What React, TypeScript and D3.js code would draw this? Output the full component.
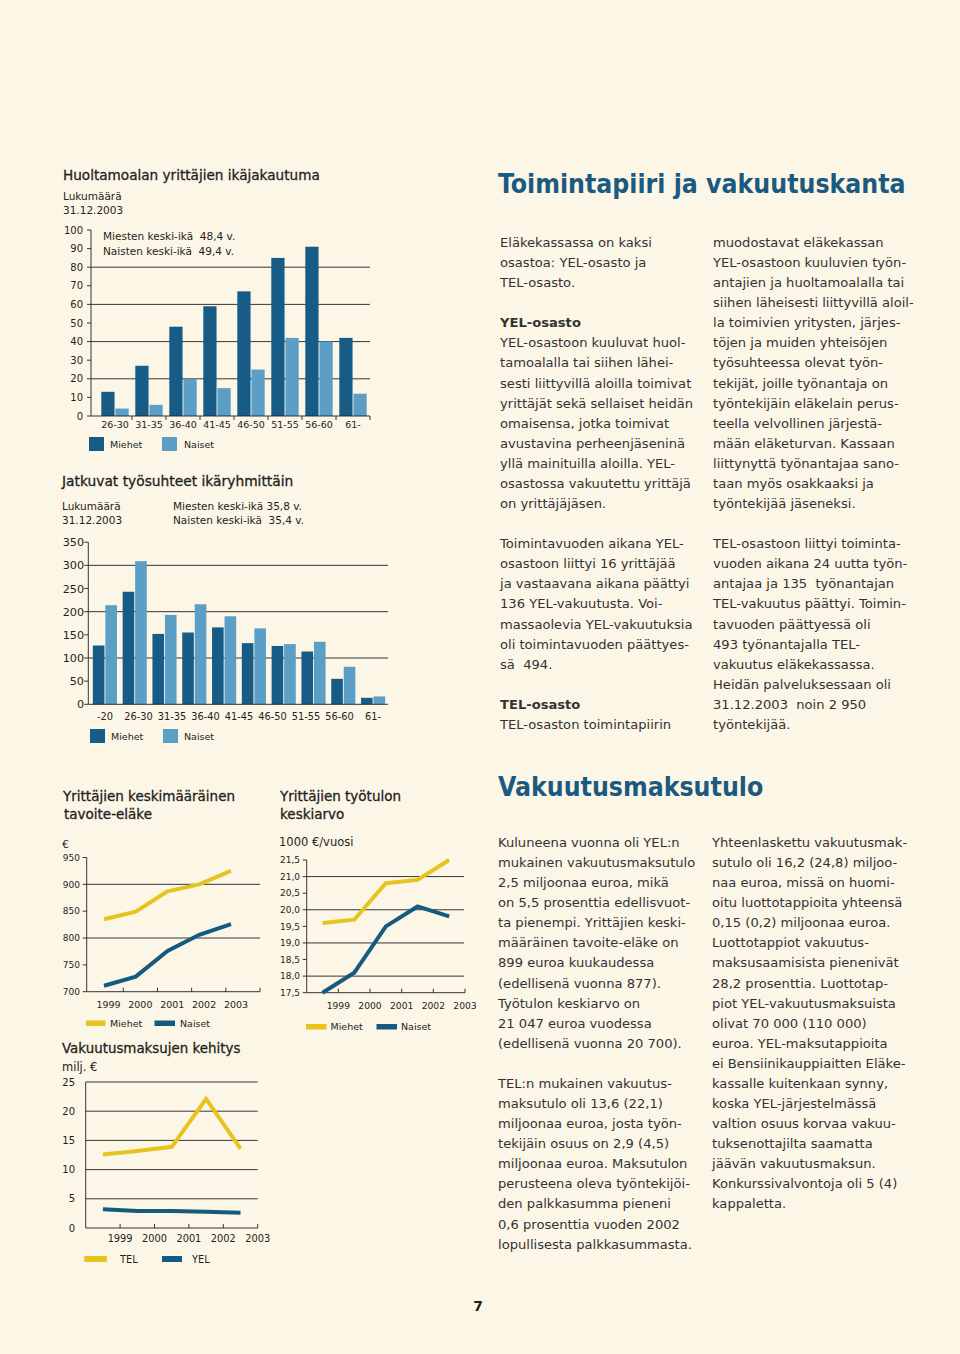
import React from "react";
import * as d3 from "d3";

const W = 960;
const H = 1354;
const BG = "#fcf6e7";
const DARK = "#175c86";
const LIGHT = "#5c9fc6";
const YELLOW = "#e7c31d";
const LINEBLUE = "#175a7f";
const INK = "#231f20";
const TEXT = "#333333";
const HEAD = "#1b5a80";
const FONT = "'DejaVu Sans', Verdana, sans-serif";
const FONT_C = "'DejaVu Sans Condensed', 'DejaVu Sans', sans-serif";
const PRE = { whiteSpace: "pre" as const };

// ---------- Chart 1: Huoltamoalan yrittäjien ikäjakautuma ----------
const ageGroups1 = ["26-30", "31-35", "36-40", "41-45", "46-50", "51-55", "56-60", "61-"];
const men1 = [13, 27, 48, 59, 67, 85, 91, 42];
const women1 = [4, 6, 20, 15, 25, 42, 40, 12];
const yTicks1 = [0, 10, 20, 30, 40, 50, 60, 70, 80, 90, 100];
const grid1 = [20, 40, 60, 80];

// ---------- Chart 2: Jatkuvat työsuhteet ikäryhmittäin ----------
const ageGroups2 = ["-20", "21-25", "26-30", "31-35", "36-40", "41-45", "46-50", "51-55", "56-60", "61-"];
const men2 = [127, 243, 152, 155, 166, 132, 126, 114, 55, 14];
const women2 = [214, 309, 193, 216, 190, 164, 130, 135, 81, 17];
const tickLabels2 = ["-20", "26-30", "31-35", "36-40", "41-45", "46-50", "51-55", "56-60", "61-"];
const yTicks2 = [0, 50, 100, 150, 200, 250, 300, 350];
const grid2 = [100, 200, 300];

// ---------- Chart 3: tavoite-eläke ----------
const years = ["1999", "2000", "2001", "2002", "2003"];
const pensionMen = [835, 849, 887, 900, 925];
const pensionWomen = [711, 728, 776, 806, 826];
const yTicks3 = [700, 750, 800, 850, 900, 950];
const grid3 = [800, 900];

// ---------- Chart 4: työtulon keskiarvo ----------
const incomeMen = [19.6, 19.7, 20.8, 20.9, 21.5];
const incomeWomen = [17.5, 18.1, 19.5, 20.1, 19.8];
const yTicks4 = [17.5, 18.0, 18.5, 19.0, 19.5, 20.0, 20.5, 21.0, 21.5];
const grid4 = [18, 19, 20, 21];

// ---------- Chart 5: Vakuutusmaksujen kehitys ----------
const premiumTEL = [12.6, 13.2, 13.9, 22.1, 13.6];
const premiumYEL = [3.2, 2.9, 2.9, 2.8, 2.6];
const yTicks5 = [0, 5, 10, 15, 20, 25];
const grid5 = [5, 10, 15, 20, 25];

// ---------- Text columns ----------
const col1a = [
  "Eläkekassassa on kaksi",
  "osastoa: YEL-osasto ja",
  "TEL-osasto.",
  "",
  "#YEL-osasto",
  "YEL-osastoon kuuluvat huol-",
  "tamoalalla tai siihen lähei-",
  "sesti liittyvillä aloilla toimivat",
  "yrittäjät sekä sellaiset heidän",
  "omaisensa, jotka toimivat",
  "avustavina perheenjäseninä",
  "yllä mainituilla aloilla. YEL-",
  "osastossa vakuutettu yrittäjä",
  "on yrittäjäjäsen.",
  "",
  "Toimintavuoden aikana YEL-",
  "osastoon liittyi 16 yrittäjää",
  "ja vastaavana aikana päättyi",
  "136 YEL-vakuutusta. Voi-",
  "massaolevia YEL-vakuutuksia",
  "oli toimintavuoden päättyes-",
  "sä  494.",
  "",
  "#TEL-osasto",
  "TEL-osaston toimintapiirin",
];
const col2a = [
  "muodostavat eläkekassan",
  "YEL-osastoon kuuluvien työn-",
  "antajien ja huoltamoalalla tai",
  "siihen läheisesti liittyvillä aloil-",
  "la toimivien yritysten, järjes-",
  "töjen ja muiden yhteisöjen",
  "työsuhteessa olevat työn-",
  "tekijät, joille työnantaja on",
  "työntekijäin eläkelain perus-",
  "teella velvollinen järjestä-",
  "mään eläketurvan. Kassaan",
  "liittynyttä työnantajaa sano-",
  "taan myös osakkaaksi ja",
  "työntekijää jäseneksi.",
  "",
  "TEL-osastoon liittyi toiminta-",
  "vuoden aikana 24 uutta työn-",
  "antajaa ja 135  työnantajan",
  "TEL-vakuutus päättyi. Toimin-",
  "tavuoden päättyessä oli",
  "493 työnantajalla TEL-",
  "vakuutus eläkekassassa.",
  "Heidän palveluksessaan oli",
  "31.12.2003  noin 2 950",
  "työntekijää.",
];
const col1b = [
  "Kuluneena vuonna oli YEL:n",
  "mukainen vakuutusmaksutulo",
  "2,5 miljoonaa euroa, mikä",
  "on 5,5 prosenttia edellisvuot-",
  "ta pienempi. Yrittäjien keski-",
  "määräinen tavoite-eläke on",
  "899 euroa kuukaudessa",
  "(edellisenä vuonna 877).",
  "Työtulon keskiarvo on",
  "21 047 euroa vuodessa",
  "(edellisenä vuonna 20 700).",
  "",
  "TEL:n mukainen vakuutus-",
  "maksutulo oli 13,6 (22,1)",
  "miljoonaa euroa, josta työn-",
  "tekijäin osuus on 2,9 (4,5)",
  "miljoonaa euroa. Maksutulon",
  "perusteena oleva työntekijöi-",
  "den palkkasumma pieneni",
  "0,6 prosenttia vuoden 2002",
  "lopullisesta palkkasummasta.",
];
const col2b = [
  "Yhteenlaskettu vakuutusmak-",
  "sutulo oli 16,2 (24,8) miljoo-",
  "naa euroa, missä on huomi-",
  "oitu luottotappioita yhteensä",
  "0,15 (0,2) miljoonaa euroa.",
  "Luottotappiot vakuutus-",
  "maksusaamisista pienenivät",
  "28,2 prosenttia. Luottotap-",
  "piot YEL-vakuutusmaksuista",
  "olivat 70 000 (110 000)",
  "euroa. YEL-maksutappioita",
  "ei Bensiinikauppiaitten Eläke-",
  "kassalle kuitenkaan synny,",
  "koska YEL-järjestelmässä",
  "valtion osuus korvaa vakuu-",
  "tuksenottajilta saamatta",
  "jäävän vakuutusmaksun.",
  "Konkurssivalvontoja oli 5 (4)",
  "kappaletta.",
];

const TextColumn = ({ lines, x, y, lh = 20.08 }: { lines: string[]; x: number; y: number; lh?: number }) => (
  <g>
    {lines.map((l, i) =>
      l === "" ? null : (
        <text
          key={i}
          x={x}
          y={y + i * lh}
          fontFamily={FONT}
          fontSize={13.1}
          fill={TEXT}
          style={PRE}
          fontWeight={l.startsWith("#") ? "bold" : "normal"}
        >
          {l.startsWith("#") ? l.slice(1) : l}
        </text>
      )
    )}
  </g>
);

const Title = ({ x, y, children, size = 13.6 }: any) => (
  <text x={x} y={y} fontFamily={FONT} fontSize={size} fill={INK} stroke={INK} strokeWidth={0.3} style={PRE}>
    {children}
  </text>
);

const Small = ({ x, y, children, size = 10.5, anchor = "start" }: any) => (
  <text x={x} y={y} fontFamily={FONT} fontSize={size} fill={INK} textAnchor={anchor} style={PRE}>
    {children}
  </text>
);

function Chart1() {
  const y = d3.scaleLinear().domain([0, 100]).range([416, 230]);
  const x = d3.scaleBand().domain(ageGroups1).range([98, 370]).paddingInner(0).paddingOuter(0);
  const bw = x.bandwidth();
  const barW = bw * 0.39;
  const pad = bw * 0.097;
  const axisX = 91;
  return (
    <g>
      <Title x={63} y={180}>Huoltamoalan yrittäjien ikäjakautuma</Title>
      <Small x={63} y={200}>Lukumäärä</Small>
      <Small x={63} y={213.5}>31.12.2003</Small>
      {grid1.map((v) => (
        <line key={v} x1={axisX} x2={370} y1={y(v)} y2={y(v)} stroke={INK} strokeWidth={0.9} />
      ))}
      {ageGroups1.map((g, i) => (
        <g key={g}>
          <rect x={x(g)! + pad} y={y(men1[i])} width={barW} height={y(0) - y(men1[i])} fill={DARK} />
          <rect x={x(g)! + bw - pad - barW} y={y(women1[i])} width={barW} height={y(0) - y(women1[i])} fill={LIGHT} />
          <line x1={x(g)! + bw} x2={x(g)! + bw} y1={y(0)} y2={y(0) + 4} stroke={INK} strokeWidth={0.9} />
          <Small x={x(g)! + bw / 2} y={428} size={9.5} anchor="middle">{g}</Small>
        </g>
      ))}
      <line x1={axisX} x2={axisX} y1={y(100)} y2={y(0)} stroke={INK} strokeWidth={0.9} />
      <line x1={axisX} x2={370} y1={y(0)} y2={y(0)} stroke={INK} strokeWidth={0.9} />
      {yTicks1.map((v) => (
        <g key={v}>
          <line x1={axisX - 4} x2={axisX} y1={y(v)} y2={y(v)} stroke={INK} strokeWidth={0.9} />
          <Small x={83} y={y(v) + 3.6} size={10} anchor="end">{v}</Small>
        </g>
      ))}
      <Small x={103} y={240}>Miesten keski-ikä  48,4 v.</Small>
      <Small x={103} y={255}>Naisten keski-ikä  49,4 v.</Small>
      <rect x={89} y={437} width={15} height={14} fill={DARK} />
      <Small x={110} y={447.5} size={9.5}>Miehet</Small>
      <rect x={162} y={437} width={15} height={14} fill={LIGHT} />
      <Small x={184} y={447.5} size={9.5}>Naiset</Small>
    </g>
  );
}

function Chart2() {
  const y = d3.scaleLinear().domain([0, 350]).range([704.3, 542.2]);
  const x = d3.scaleBand().domain(ageGroups2).range([90, 388]).paddingInner(0).paddingOuter(0);
  const bw = x.bandwidth();
  const barW = bw * 0.39;
  const pad = bw * 0.095;
  const axisX = 88.3;
  const xl = d3
    .scalePoint()
    .domain(tickLabels2)
    .range([x(ageGroups2[0])! + bw / 2, x(ageGroups2[ageGroups2.length - 1])! + bw / 2]);
  return (
    <g>
      <Title x={62} y={486} size={13.8}>Jatkuvat työsuhteet ikäryhmittäin</Title>
      <Small x={62} y={509.5}>Lukumäärä</Small>
      <Small x={62} y={523.5}>31.12.2003</Small>
      <Small x={173} y={509.5}>Miesten keski-ikä 35,8 v.</Small>
      <Small x={173} y={523.5}>Naisten keski-ikä  35,4 v.</Small>
      {grid2.map((v) => (
        <line key={v} x1={axisX} x2={388} y1={y(v)} y2={y(v)} stroke={INK} strokeWidth={0.9} />
      ))}
      {ageGroups2.map((g, i) => (
        <g key={g}>
          <rect x={x(g)! + pad} y={y(men2[i])} width={barW} height={y(0) - y(men2[i])} fill={DARK} />
          <rect x={x(g)! + bw - pad - barW} y={y(women2[i])} width={barW} height={y(0) - y(women2[i])} fill={LIGHT} />
        </g>
      ))}
      {tickLabels2.map((t) => (
        <Small key={t} x={xl(t)} y={720} size={9.8} anchor="middle">{t}</Small>
      ))}
      <line x1={axisX} x2={axisX} y1={y(350)} y2={y(0)} stroke={INK} strokeWidth={0.9} />
      <line x1={axisX} x2={388} y1={y(0)} y2={y(0)} stroke={INK} strokeWidth={0.9} />
      {yTicks2.map((v) => (
        <g key={v}>
          <line x1={axisX - 4} x2={axisX} y1={y(v)} y2={y(v)} stroke={INK} strokeWidth={0.9} />
          <Small x={84} y={y(v) + 4} size={11.2} anchor="end">{v}</Small>
        </g>
      ))}
      <rect x={90} y={729} width={15} height={14} fill={DARK} />
      <Small x={111} y={740} size={9.5}>Miehet</Small>
      <rect x={163} y={729} width={15} height={14} fill={LIGHT} />
      <Small x={184} y={740} size={9.5}>Naiset</Small>
    </g>
  );
}

function LineSeries({ data, x, y, color }: any) {
  const gen = d3
    .line<number>()
    .x((_, i) => x(years[i]))
    .y((d) => y(d));
  return <path d={gen(data) || ""} fill="none" stroke={color} strokeWidth={4} strokeLinejoin="miter" />;
}

function Chart3() {
  const y = d3.scaleLinear().domain([700, 950]).range([991.7, 857.5]);
  const x = d3.scalePoint().domain(years).range([104, 231]);
  const xl = d3.scalePoint().domain(years).range([108.5, 236]);
  const xt = d3.scalePoint().domain(years).range([123.3, 260]);
  const axisX = 86.7;
  return (
    <g>
      <Title x={63} y={801} size={13.5}>Yrittäjien keskimääräinen</Title>
      <Title x={64} y={819} size={13.5}>tavoite-eläke</Title>
      <Small x={62} y={848} size={11}>€</Small>
      {grid3.map((v) => (
        <line key={v} x1={axisX} x2={260} y1={y(v)} y2={y(v)} stroke={INK} strokeWidth={0.9} />
      ))}
      <line x1={axisX} x2={axisX} y1={y(950)} y2={y(700)} stroke={INK} strokeWidth={0.9} />
      <line x1={axisX} x2={260} y1={y(700)} y2={y(700)} stroke={INK} strokeWidth={0.9} />
      {yTicks3.map((v) => (
        <g key={v}>
          <line x1={axisX - 4} x2={axisX} y1={y(v)} y2={y(v)} stroke={INK} strokeWidth={0.9} />
          <Small x={80} y={y(v) + 3.2} size={9} anchor="end">{v}</Small>
        </g>
      ))}
      {years.map((yr) => (
        <g key={yr}>
          <line x1={xt(yr)} x2={xt(yr)} y1={y(700)} y2={y(700) - 4} stroke={INK} strokeWidth={0.9} />
          <Small x={xl(yr)} y={1008} size={9.5} anchor="middle">{yr}</Small>
        </g>
      ))}
      <LineSeries data={pensionMen} x={x} y={y} color={YELLOW} />
      <LineSeries data={pensionWomen} x={x} y={y} color={LINEBLUE} />
      <rect x={86} y={1020.5} width={19.5} height={5.5} fill={YELLOW} />
      <Small x={110} y={1027} size={9.5}>Miehet</Small>
      <rect x={154.5} y={1020.5} width={20.5} height={5.5} fill={LINEBLUE} />
      <Small x={180} y={1027} size={9.5}>Naiset</Small>
    </g>
  );
}

function Chart4() {
  const y = d3.scaleLinear().domain([17.5, 21.5]).range([992.7, 860]);
  const band = d3.scaleBand().domain(years).range([306.7, 465]);
  const bw = band.bandwidth();
  const x = (yr: string) => band(yr)! + bw / 2;
  const axisX = 306.7;
  const fmt = (v: number) => v.toFixed(1).replace(".", ",");
  return (
    <g>
      <Title x={280} y={801} size={13.5}>Yrittäjien työtulon</Title>
      <Title x={280} y={819} size={13.5}>keskiarvo</Title>
      <Small x={279} y={846} size={11.5}>1000 €/vuosi</Small>
      {grid4.map((v) => (
        <line key={v} x1={axisX} x2={464} y1={y(v)} y2={y(v)} stroke={INK} strokeWidth={0.9} />
      ))}
      <line x1={axisX} x2={axisX} y1={y(21.5)} y2={y(17.5)} stroke={INK} strokeWidth={0.9} />
      <line x1={axisX} x2={465} y1={y(17.5)} y2={y(17.5)} stroke={INK} strokeWidth={0.9} />
      {yTicks4.map((v) => (
        <g key={v}>
          <line x1={axisX - 4} x2={axisX} y1={y(v)} y2={y(v)} stroke={INK} strokeWidth={0.9} />
          <Small x={300} y={y(v) + 3.2} size={9} anchor="end">{fmt(v)}</Small>
        </g>
      ))}
      {years.map((yr) => (
        <g key={yr}>
          <line x1={band(yr)! + bw} x2={band(yr)! + bw} y1={y(17.5)} y2={y(17.5) - 4} stroke={INK} strokeWidth={0.9} />
          <Small x={band(yr)! + bw} y={1009} size={9.2} anchor="middle">{yr}</Small>
        </g>
      ))}
      <LineSeries data={incomeMen} x={x} y={y} color={YELLOW} />
      <LineSeries data={incomeWomen} x={x} y={y} color={LINEBLUE} />
      <rect x={306} y={1024} width={20.5} height={5.5} fill={YELLOW} />
      <Small x={330.5} y={1030} size={9.5}>Miehet</Small>
      <rect x={376.5} y={1024} width={20.5} height={5.5} fill={LINEBLUE} />
      <Small x={401} y={1030} size={9.5}>Naiset</Small>
    </g>
  );
}

function Chart5() {
  const y = d3.scaleLinear().domain([0, 25]).range([1228, 1082]);
  const band = d3.scaleBand().domain(years).range([85.7, 257.7]);
  const bw = band.bandwidth();
  const x = (yr: string) => band(yr)! + bw / 2;
  const axisX = 85.7;
  return (
    <g>
      <Title x={62} y={1053} size={13.4}>Vakuutusmaksujen kehitys</Title>
      <Small x={62} y={1070.5} size={11.5}>milj. €</Small>
      {grid5.map((v) => (
        <line key={v} x1={axisX} x2={257.7} y1={y(v)} y2={y(v)} stroke={INK} strokeWidth={0.9} />
      ))}
      <line x1={axisX} x2={axisX} y1={y(25)} y2={y(0)} stroke={INK} strokeWidth={0.9} />
      <line x1={axisX} x2={257.7} y1={y(0)} y2={y(0)} stroke={INK} strokeWidth={0.9} />
      {yTicks5.map((v) => (
        <Small key={v} x={75} y={y(v) + 3.6} size={10} anchor="end">{v}</Small>
      ))}
      {years.map((yr) => (
        <g key={yr}>
          <line x1={band(yr)! + bw} x2={band(yr)! + bw} y1={y(0)} y2={y(0) - 4} stroke={INK} strokeWidth={0.9} />
          <Small x={band(yr)! + bw} y={1242} size={9.8} anchor="middle">{yr}</Small>
        </g>
      ))}
      <LineSeries data={premiumTEL} x={x} y={y} color={YELLOW} />
      <LineSeries data={premiumYEL} x={x} y={y} color={LINEBLUE} />
      <rect x={84.3} y={1256} width={22.5} height={6} fill={YELLOW} />
      <Small x={120} y={1263} size={9.8}>TEL</Small>
      <rect x={162} y={1256} width={20} height={6} fill={LINEBLUE} />
      <Small x={192} y={1263} size={9.8}>YEL</Small>
    </g>
  );
}

export default function App() {
  return (
    <svg
      width={W}
      height={H}
      viewBox={`0 0 ${W} ${H}`}
      style={{ position: "absolute", left: 0, top: 0, display: "block" }}
    >
      <rect x={0} y={0} width={W} height={H} fill={BG} />
      <Chart1 />
      <Chart2 />
      <Chart3 />
      <Chart4 />
      <Chart5 />
      <text x={498} y={193} fontFamily={FONT_C} fontStretch="condensed" fontWeight="bold" fontSize={26.4} fill={HEAD}>
        Toimintapiiri ja vakuutuskanta
      </text>
      <TextColumn lines={col1a} x={500} y={247} />
      <TextColumn lines={col2a} x={713} y={247} />
      <text x={498} y={796} fontFamily={FONT_C} fontStretch="condensed" fontWeight="bold" fontSize={26.4} fill={HEAD}>
        Vakuutusmaksutulo
      </text>
      <TextColumn lines={col1b} x={498} y={847} />
      <TextColumn lines={col2b} x={712} y={847} />
      <text x={478} y={1311} fontFamily={FONT} fontWeight="bold" fontSize={14} fill={INK} textAnchor="middle">
        7
      </text>
    </svg>
  );
}
